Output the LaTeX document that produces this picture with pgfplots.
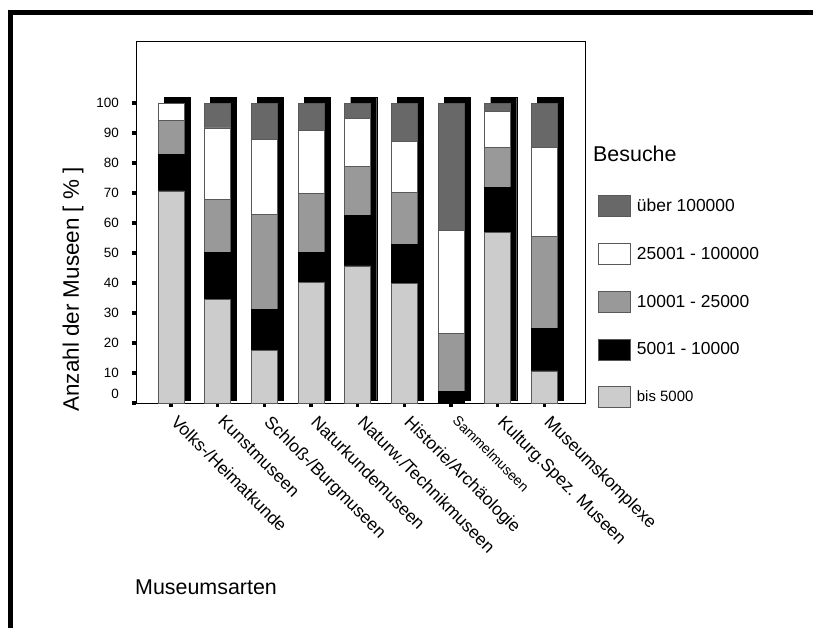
\documentclass[border=0pt]{standalone}
\usepackage{fontspec}
\setmainfont{Liberation Sans}
\usepackage{pgfplots}
\usepackage{pgfplotstable}
\pgfplotsset{compat=1.18}

\definecolor{cTop}{HTML}{686868}
\definecolor{cMid}{HTML}{999999}
\definecolor{cLow}{HTML}{CCCCCC}

% shares in percent per museum type (bottom to top)
\pgfplotstableread{
x  bis   k10   k25   k100  ueber
0  70.7  12.1  11.4  5.8   0.0
1  34.6  15.5  17.7  23.9  8.3
2  17.4  13.7  31.8  25.0  12.1
3  40.3  9.8   19.7  21.1  9.1
4  45.7  16.9  16.3  15.9  5.2
5  39.8  13.1  17.4  17.0  12.7
6  0.0   4.0   19.1  34.5  42.4
7  56.8  15.2  13.3  12.0  2.7
8  10.7  14.1  30.8  29.7  14.7
}\shares

% black shadow behind every bar
\pgfplotstableread{
x  lo  hi
0  1   101
1  1   101
2  1   101
3  1   101
4  1   101
5  1   101
6  1   101
7  1   101
8  1   101
}\shadow

\begin{document}
\begin{tikzpicture}
\useasboundingbox (0,0) rectangle (813bp,-628bp);
\draw[line width=4.4bp] (10.5bp,-640bp) -- (10.5bp,-12.5bp) -- (830bp,-12.5bp);

\pgfplotsset{
  mybase/.style={
    at={(136bp,-403bp)}, anchor=south west,
    scale only axis, width=449bp, height=362bp,
    xmin=-0.75, xmax=8.87, ymin=0, ymax=120.7,
    ybar stacked, bar width=26bp,
  },
  lg/.style={legend image code/.code={
    \draw[##1,/tikz/.cd,draw=black!65,line width=0.7bp] (0bp,-10.5bp) rectangle (32bp,10.5bp);}},
}

\begin{axis}[mybase, hide axis]
\addplot[draw=none, fill=none, bar shift=6bp] table[x=x,y=lo]{\shadow};
\addplot[fill=black, draw=black, bar shift=6bp] table[x=x,y=hi]{\shadow};
\end{axis}

\begin{axis}[mybase,
  axis line style={line width=1bp},
  tick pos=left, tick align=outside,
  major tick length=4bp,
  tick style={line width=3.5bp, black},
  xtick={0,...,8},
  xticklabels={Volks-/Heimatkunde, Kunstmuseen, Schloß-/Burgmuseen,
    Naturkundemuseen, Naturw./Technikmuseen, Historie/Archäologie,
    {\fontsize{14}{14}\selectfont Sammelmuseen}, Kulturg.Spez. Museen, Museumskomplexe},
  xticklabel style={xshift=8bp, yshift=-7bp, rotate=-45, anchor=north west,
    inner sep=0pt, font=\fontsize{17.5}{17.5}\selectfont},
  ytick={10,20,...,100},
  extra y ticks={0},
  extra y tick style={yticklabel style={yshift=9bp}},
  yticklabel style={font=\fontsize{13.5}{13.5}\selectfont, inner sep=0pt, xshift=-13bp},
  /pgf/number format/assume math mode=true,
  ylabel={Anzahl der Museen [ \% ]},
  ylabel style={at={(axis description cs:-0.14,0.314)}, anchor=center,
    font=\fontsize{22.5}{22.5}\selectfont},
  reverse legend,
  legend cell align=left,
  legend style={draw=none, fill=none, at={(1.029,0.574)}, anchor=north west,
    inner sep=0pt, row sep=26bp, column sep=6bp,
    nodes={inner sep=0pt, anchor=west}, font=\fontsize{17.5}{17.5}\selectfont},
]
\addplot[lg, fill=cLow, draw=black!65, line width=0.7bp] table[x=x,y=bis]{\shares};
\addlegendentry{\fontsize{15}{15}\selectfont bis 5000}
\addplot[lg, fill=black, draw=black, line width=0.7bp] table[x=x,y=k10]{\shares};
\addlegendentry{5001 - 10000}
\addplot[lg, fill=cMid, draw=black!65, line width=0.7bp] table[x=x,y=k25]{\shares};
\addlegendentry{10001 - 25000}
\addplot[lg, fill=white, draw=black!65, line width=0.7bp] table[x=x,y=k100]{\shares};
\addlegendentry{25001 - 100000}
\addplot[lg, fill=cTop, draw=black!65, line width=0.7bp] table[x=x,y=ueber]{\shares};
\addlegendentry{über 100000}
\end{axis}

\node[anchor=west, inner sep=0pt, font=\fontsize{21.5}{21.5}\selectfont] at (593bp,-154bp) {Besuche};
\node[anchor=west, inner sep=0pt, font=\fontsize{21.5}{21.5}\selectfont] at (135bp,-587bp) {Museumsarten};
\end{tikzpicture}
\end{document}
